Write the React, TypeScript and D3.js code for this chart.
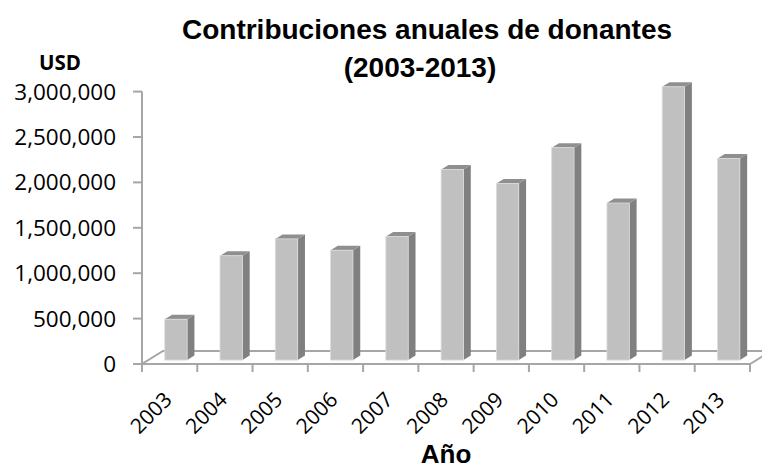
import * as d3 from 'd3';

const years = ['2003', '2004', '2005', '2006', '2007', '2008', '2009', '2010', '2011', '2012', '2013'];
const contributions = [450000, 1150000, 1335000, 1210000, 1360000, 2100000, 1945000, 2340000, 1730000, 3010000, 2220000];
const yTicks = [0, 500000, 1000000, 1500000, 2000000, 2500000, 3000000];

const W = 762;
const H = 469;

// plot frame (front-left corner of floor)
const left = 142;
const right = 750;
const floorY = 364;
const depthX = 21;
const depthY = 13;

const axisColor = '#a6a6a6';
const fmt = d3.format(',');

const App = () => {
  const x = d3.scaleBand<string>().domain(years).range([left, right]).padding(0);

  // axis scale sits on the front plane, bars stand a bit deeper in the floor
  const yAxis = d3.scaleLinear().domain([0, 3000000]).range([floorY, 91.6]);
  const barBase = floorY - depthY * 0.3;
  const yBar = d3.scaleLinear().domain([0, 3000000]).range([barBase, barBase - (floorY - 91.6)]);

  const bw = x.bandwidth() * 0.405;
  const barShift = depthX * 0.3;
  const sideX = 7.3;
  const sideY = 4.5;

  const floor = [
    [left, floorY],
    [right, floorY],
    [right + depthX, floorY - depthY],
    [left + depthX, floorY - depthY],
  ];

  return (
    <svg width={W} height={H} style={{ position: 'absolute', left: 0, top: 0, background: '#fff' }}>
      {/* title */}
      <g fontFamily="'Liberation Sans', Arial, sans-serif" fontWeight="bold" fontSize={28} fill="#000" textAnchor="middle">
        <text x={427} y={39}>Contribuciones anuales de donantes</text>
        <text x={420} y={77}>(2003-2013)</text>
      </g>

      {/* floor */}
      <polygon points={floor.map(p => p.join(',')).join(' ')} fill="#fff" stroke={axisColor} strokeWidth={2} />

      {/* y axis */}
      <line x1={left} x2={left} y1={yAxis(3000000)} y2={floorY} stroke={axisColor} strokeWidth={2} />
      {yTicks.map(t => (
        <g key={t}>
          <line x1={left - 9} x2={left} y1={yAxis(t)} y2={yAxis(t)} stroke={axisColor} strokeWidth={2} />
          <text x={116} y={yAxis(t) + 8} textAnchor="end" fontFamily="'Open Sans', sans-serif" fontSize={22.5} fill="#000">
            {fmt(t)}
          </text>
        </g>
      ))}
      <text x={60} y={70} textAnchor="middle" fontFamily="'Open Sans', sans-serif" fontWeight="bold" fontSize={20.5} fill="#000">USD</text>

      {/* x ticks */}
      {d3.range(years.length + 1).map(i => {
        const tx = left + i * x.step();
        return <line key={i} x1={tx} x2={tx} y1={floorY} y2={floorY + 8} stroke={axisColor} strokeWidth={2} />;
      })}

      {/* bars */}
      {years.map((yr, i) => {
        const x0 = (x(yr) as number) + x.bandwidth() / 2 + barShift - bw / 2;
        const x1 = x0 + bw;
        const top = yBar(contributions[i]);
        const bottom = barBase;
        const side = `${x1},${top} ${x1 + sideX},${top - sideY} ${x1 + sideX},${bottom - sideY} ${x1},${bottom}`;
        const lid = `${x0},${top} ${x1},${top} ${x1 + sideX},${top - sideY} ${x0 + sideX},${top - sideY}`;
        return (
          <g key={yr}>
            <polygon points={side} fill="#808080" />
            <polygon points={lid} fill="#8f8f8f" />
            <rect x={x0} y={top} width={bw} height={bottom - top} fill="#c0c0c0" stroke="#dcdcdc" strokeWidth={0.8} />
          </g>
        );
      })}

      {/* year labels */}
      {years.map(yr => {
        const cx = (x(yr) as number) + x.bandwidth() / 2 + 3.5;
        const cy = 401;
        return (
          <text
            key={yr}
            transform={`translate(${cx},${cy}) rotate(-45)`}
            textAnchor="end"
            fontFamily="'Open Sans', sans-serif"
            fontSize={21}
            fill="#000"
          >
            {yr}
          </text>
        );
      })}

      <text x={446} y={463} textAnchor="middle" fontFamily="'Liberation Sans', Arial, sans-serif" fontWeight="bold" fontSize={26} fill="#000">
        Año
      </text>
    </svg>
  );
};

export default App;
